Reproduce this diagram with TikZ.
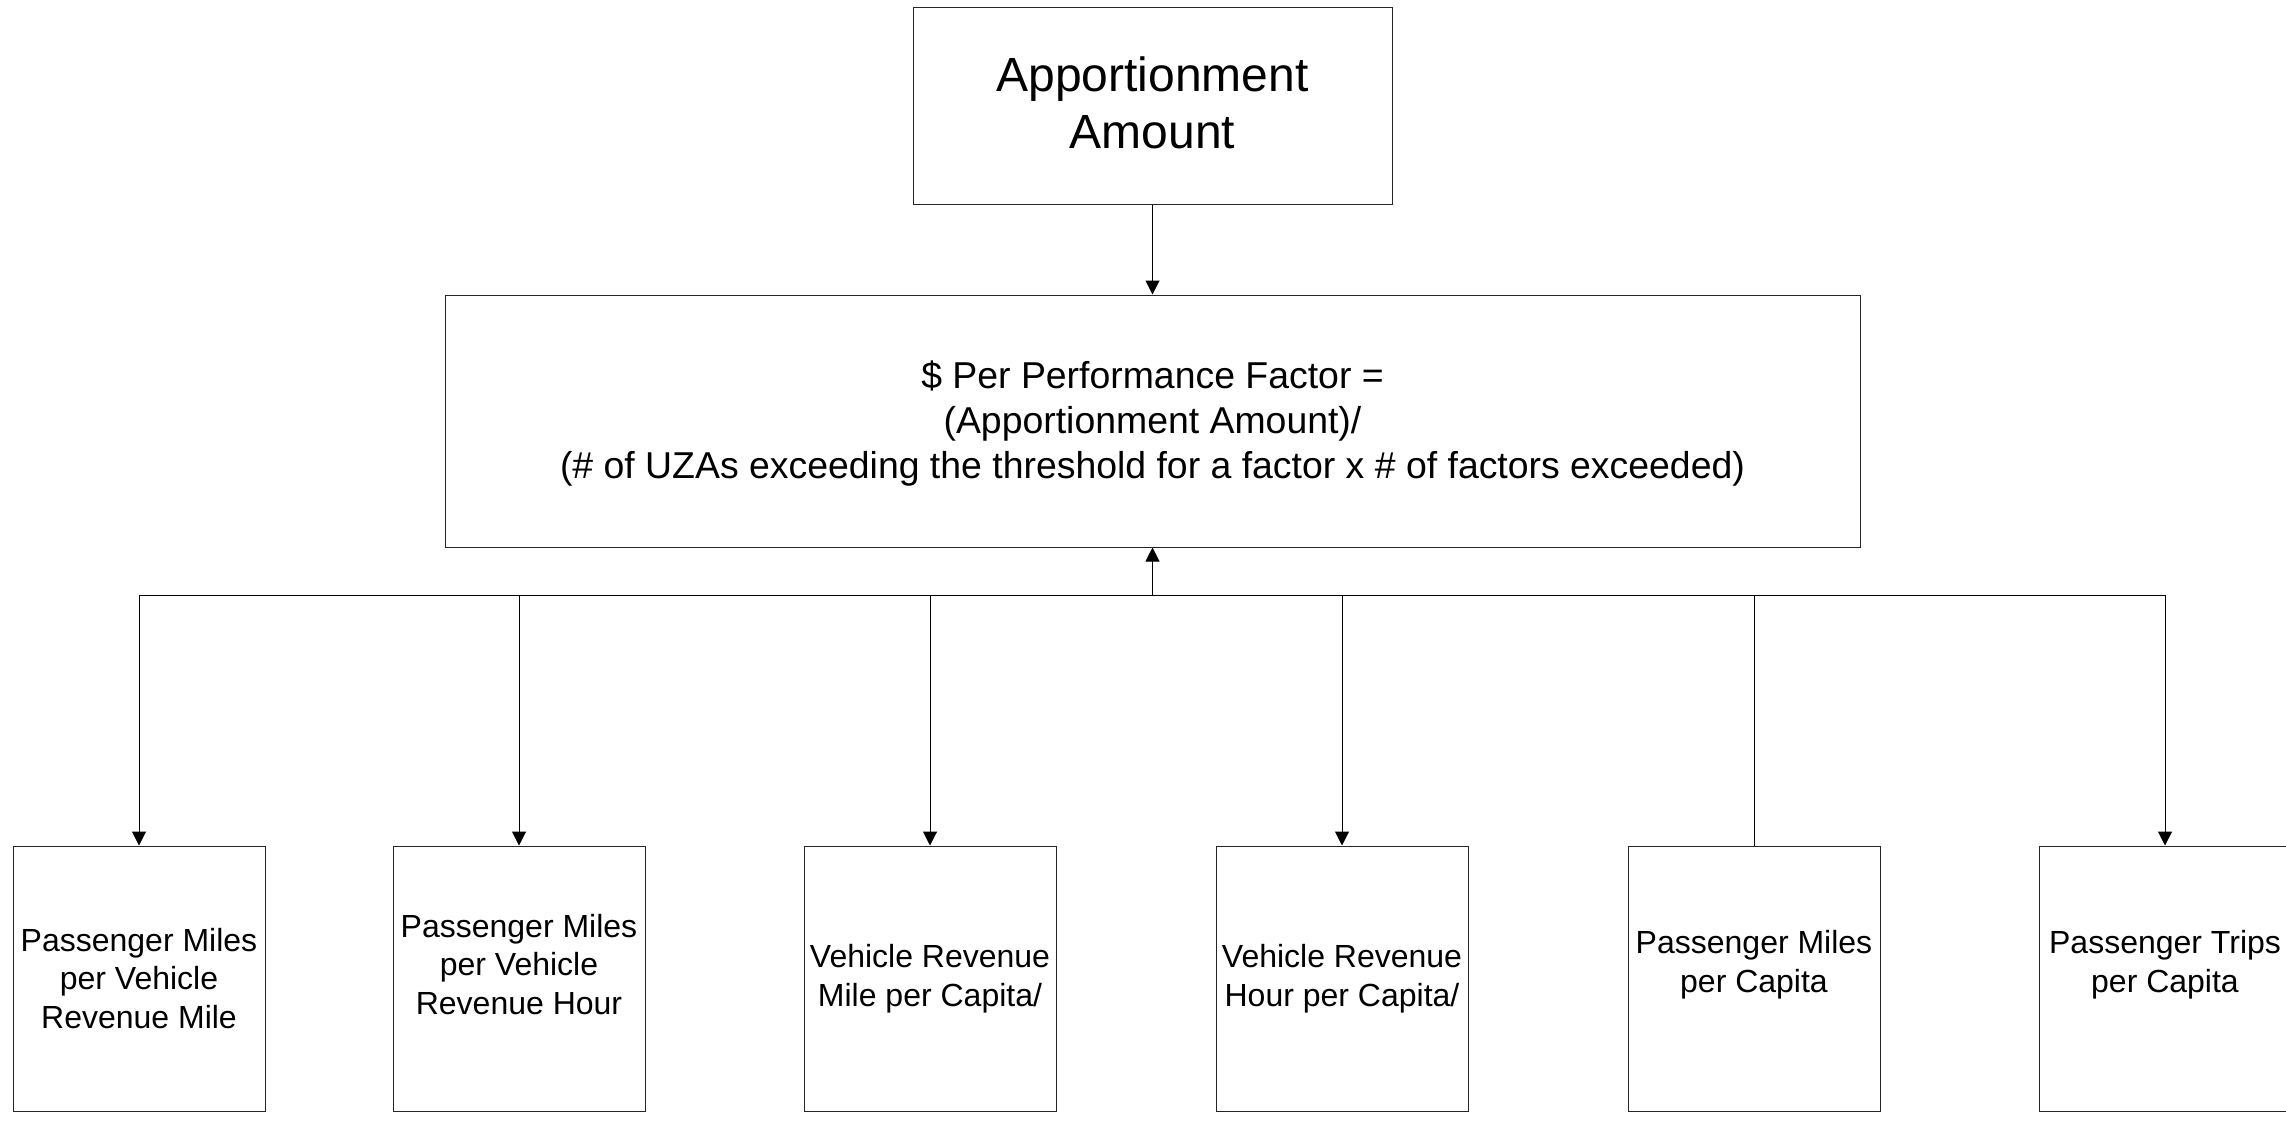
\documentclass[tikz,border=0pt]{standalone}
\usepackage{fontspec}
\setmainfont{Liberation Sans}
\usetikzlibrary{arrows.meta}
\begin{document}
\begin{tikzpicture}[x=0.5pt,y=-0.5pt,
  box/.style={draw=black!85,line width=0.5pt,inner sep=0pt},
  topbox/.style={box,minimum width=239.5pt,minimum height=98.5pt,align=center,font=\fontsize{24}{28.5}\selectfont},
  midbox/.style={box,minimum width=707.5pt,minimum height=126pt,align=center,font=\fontsize{18.7}{22.5}\selectfont},
  leafbox/.style={box,minimum width=126pt,minimum height=132.5pt},
  leaftext/.style={inner sep=0pt,align=center,font=\fontsize{16}{19.3}\selectfont},
  conn/.style={draw=black,line width=0.5pt},
  arr/.style={conn,-{Triangle[width=7pt,length=7pt]}}
]
\useasboundingbox (0,0) rectangle (2286,1120);
\fill[white] (0,0) rectangle (2286,1120);

\node[topbox] (top) at (1152.5,105.5) {};
\node[inner sep=0pt,align=center,font=\fontsize{24}{28.5}\selectfont] (toptext) at ([yshift=1.5pt]top.center) {Apportionment\\Amount};
\node[midbox] (mid) at (1152.5,421) {};
\node[inner sep=0pt,align=center,font=\fontsize{18.7}{22.5}\selectfont] (midtext) at ([yshift=-1.5pt]mid.center) {\$ Per Performance Factor =\\(Apportionment Amount)/\\(\# of UZAs exceeding the threshold for a factor x \# of factors exceeded)};

\node[leafbox] (b1) at (139,978.5) {};
\node[leafbox] (b2) at (519,978.5) {};
\node[leafbox] (b3) at (930,978.5) {};
\node[leafbox] (b4) at (1342,978.5) {};
\node[leafbox] (b5) at (1754,978.5) {};
\node[leafbox] (b6) at (2165,978.5) {};

\node[leaftext] (t1) at (b1.center) {Passenger Miles\\per Vehicle\\Revenue Mile};
\node[leaftext] (t2) at ([yshift=7pt]b2.center) {Passenger Miles\\per Vehicle\\Revenue Hour};
\node[leaftext] (t3) at (b3.center) {Vehicle Revenue\\Mile per Capita/};
\node[leaftext] (t4) at (b4.center) {Vehicle Revenue\\Hour per Capita/};
\node[leaftext] (t5) at ([yshift=7pt]b5.center) {Passenger Miles\\per Capita};
\node[leaftext] (t6) at ([yshift=7pt]b6.center) {Passenger Trips\\per Capita};

\coordinate (bus) at (1152.5,595);

\draw[arr] (top.south) -- (mid.north);
\draw[arr] (bus) -- (mid.south);
\draw[arr] (bus) -| (b1.north);
\draw[arr] (bus) -| (b2.north);
\draw[arr] (bus) -| (b3.north);
\draw[arr] (bus) -| (b4.north);
\draw[conn] (bus) -| (b5.north);
\draw[arr] (bus) -| (b6.north);
\end{tikzpicture}
\end{document}
